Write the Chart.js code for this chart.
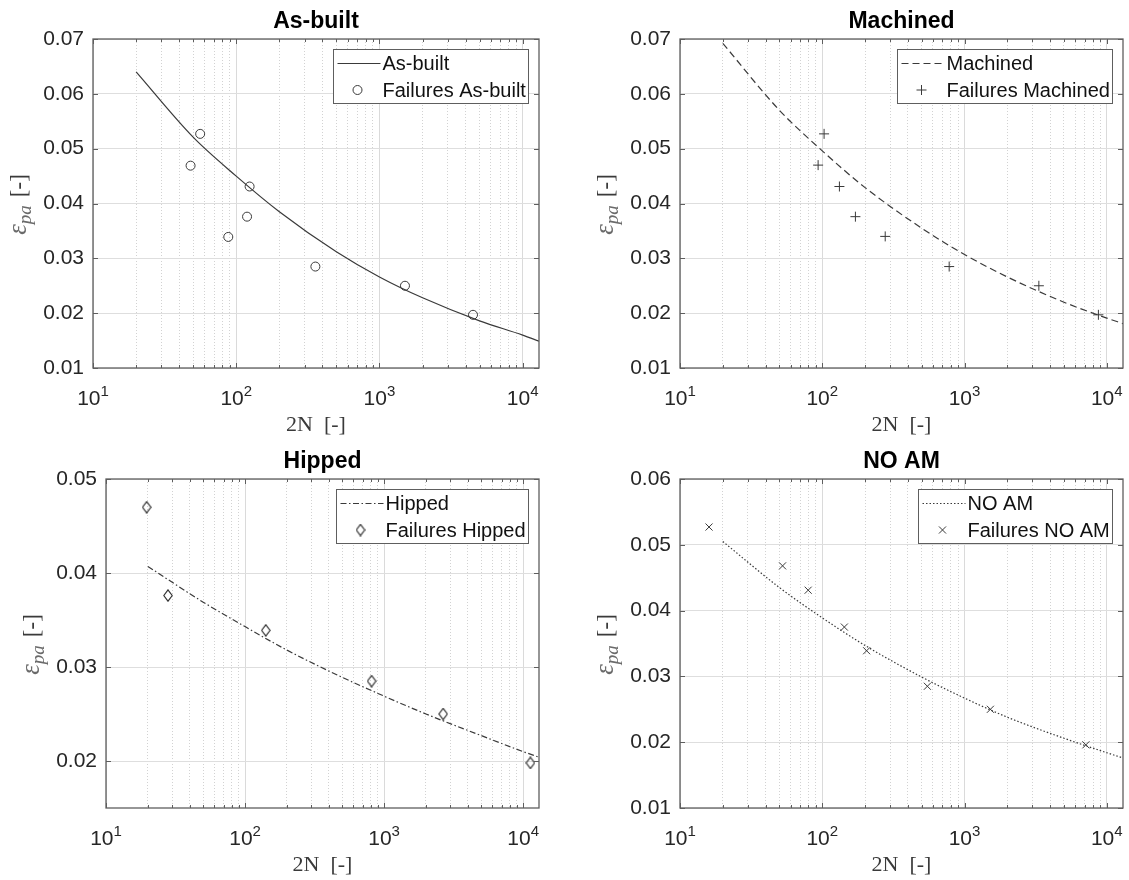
<!DOCTYPE html>
<html>
<head>
<meta charset="utf-8">
<title>Strain-life curves</title>
<script src="https://cdn.jsdelivr.net/npm/chart.js"></script>
<style>
  html, body { margin: 0; padding: 0; background: #fff; }
  #page { position: relative; width: 1129px; height: 880px; overflow: hidden; }
  #page canvas { position: absolute; }
</style>
</head>
<body>
<div id="page">
  <canvas id="c-asbuilt" width="560" height="440" style="left:0;top:0"></canvas>
  <canvas id="c-machined" width="569" height="440" style="left:560px;top:0"></canvas>
  <canvas id="c-hipped" width="560" height="440" style="left:0;top:440px"></canvas>
  <canvas id="c-noam" width="569" height="440" style="left:560px;top:440px"></canvas>
</div>
<script>
// fitted curves, read at these reversal counts
const curveN = [20, 50, 100, 200, 500, 1000, 2000, 5000, 10000, 13000];
const asBuiltCurve  = [0.0640, 0.0521, 0.0450, 0.0385, 0.0312, 0.0266, 0.0228, 0.0186, 0.0160, 0.0149];
const machinedCurve = [0.0692, 0.0570, 0.0496, 0.0429, 0.0355, 0.0307, 0.0266, 0.0220, 0.0191, 0.0181];
const hippedCurve   = [0.0407, 0.0369, 0.0343, 0.0318, 0.0289, 0.0269, 0.0250, 0.0227, 0.0210, 0.0204];
const noAmCurve     = [0.0505, 0.0435, 0.0389, 0.0347, 0.0299, 0.0267, 0.0238, 0.0206, 0.0184, 0.0176];

// failures
const asBuiltN    = [56, 48, 124, 119, 88, 357, 1507, 4500];
const asBuiltEps  = [0.0527, 0.0469, 0.0431, 0.0376, 0.0339, 0.0285, 0.0250, 0.0197];
const machinedN   = [103, 93.5, 132, 171, 277, 780, 3330, 8730];
const machinedEps = [0.0527, 0.0470, 0.0431, 0.0376, 0.0340, 0.0285, 0.0250, 0.0197];
const hippedN     = [19.6, 27.9, 141, 813, 2660, 11270];
const hippedEps   = [0.0470, 0.0376, 0.0339, 0.0285, 0.0250, 0.0198];
const noAmN       = [16, 52.6, 79.6, 143, 205, 548, 1520, 7130];
const noAmEps     = [0.0527, 0.0468, 0.0431, 0.0375, 0.0339, 0.0285, 0.0250, 0.0196];

// ticks
const xTickValues = [10, 100, 1000, 10000];
const xTickExp = ['1', '2', '3', '4'];
const yTicksWide = [0.01, 0.02, 0.03, 0.04, 0.05, 0.06, 0.07];
const yTicksHipped = [0.02, 0.03, 0.04, 0.05];
const yTicksNoAm = [0.01, 0.02, 0.03, 0.04, 0.05, 0.06];

const SANS = '"Liberation Sans", Arial, Helvetica, sans-serif';
const SERIF = '"Liberation Serif", "Times New Roman", serif';
const INK = '#262626';
const FRAME = '#5e5e5e';
const LINE = '#3a3a3a';

// minor + major grid positions for the log axis
const xGridValues = [];
for (let d = 10; d <= 10000; d *= 10) {
  for (let k = 1; k <= 9; k++) {
    if (d * k <= 13000) xGridValues.push(d * k);
  }
}

function isDecade(v) {
  const l = Math.log10(v);
  return Math.abs(l - Math.round(l)) < 1e-6;
}

function pts(xs, ys) {
  return xs.map((x, i) => ({x: x, y: ys[i]}));
}

// matlab 'd' marker is a bit taller than wide
function makeDiamond() {
  const c = document.createElement('canvas');
  c.width = 10; c.height = 13;
  const g = c.getContext('2d');
  g.strokeStyle = '#2a2a2a';
  g.lineWidth = 1.1;
  g.beginPath();
  g.moveTo(5, 0.8); g.lineTo(9.2, 6.5); g.lineTo(5, 12.2); g.lineTo(0.8, 6.5);
  g.closePath();
  g.stroke();
  return c;
}

// axes box + inward ticks
const matlabFrame = {
  id: 'matlabFrame',
  afterDatasetsDraw(chart) {
    const {ctx, chartArea: a, scales: {x, y}} = chart;
    ctx.save();
    ctx.strokeStyle = FRAME;
    ctx.lineWidth = 1;
    ctx.beginPath();
    x.ticks.forEach(t => {
      const px = Math.round(x.getPixelForValue(t.value)) + 0.5;
      const len = isDecade(t.value) ? 5 : 3;
      ctx.moveTo(px, a.bottom); ctx.lineTo(px, a.bottom - len);
      ctx.moveTo(px, a.top); ctx.lineTo(px, a.top + len);
    });
    y.ticks.forEach(t => {
      const py = Math.round(y.getPixelForValue(t.value)) + 0.5;
      ctx.moveTo(a.left, py); ctx.lineTo(a.left + 5, py);
      ctx.moveTo(a.right, py); ctx.lineTo(a.right - 5, py);
    });
    ctx.stroke();
    ctx.lineWidth = 1.3;
    ctx.strokeRect(a.left, a.top, a.right - a.left, a.bottom - a.top);
    ctx.restore();
  }
};

// legend box in the upper right corner of the axes
const boxLegend = {
  id: 'boxLegend',
  afterDraw(chart) {
    const {ctx, chartArea: a} = chart;
    const sets = chart.data.datasets;
    ctx.save();
    ctx.font = '20px ' + SANS;
    const textW = Math.max(...sets.map(d => ctx.measureText(d.label).width));
    const w = Math.round(49 + textW + 3), h = 54;
    const x0 = Math.round(a.right - 11.5 - w) + 0.5;
    const y0 = Math.round(a.top + 10) + 0.5;
    ctx.fillStyle = '#fff';
    ctx.fillRect(x0, y0, w, h);
    ctx.strokeStyle = FRAME;
    ctx.lineWidth = 1;
    ctx.strokeRect(x0, y0, w, h);
    sets.forEach((d, i) => {
      const cy = y0 + 14 + i * 26.5;
      ctx.save();
      if (d.showLine) {
        ctx.strokeStyle = d.borderColor;
        ctx.lineWidth = d.borderWidth;
        ctx.setLineDash(d.borderDash || []);
        ctx.beginPath();
        ctx.moveTo(x0 + 4, cy);
        ctx.lineTo(x0 + 47, cy);
        ctx.stroke();
      } else {
        ctx.strokeStyle = d.pointBorderColor;
        ctx.fillStyle = 'rgba(0,0,0,0)';
        ctx.lineWidth = d.pointBorderWidth;
        Chart.helpers.drawPoint(ctx, {
          pointStyle: d.pointStyle, radius: d.pointRadius,
          rotation: 0, borderWidth: d.pointBorderWidth
        }, x0 + 24, cy);
      }
      ctx.restore();
      ctx.fillStyle = '#111';
      ctx.textBaseline = 'middle';
      ctx.textAlign = 'left';
      ctx.fillText(d.label, x0 + 49, cy + 1);
    });
    ctx.restore();
  }
};

// 10^n labels with a raised exponent
const decadeLabels = {
  id: 'decadeLabels',
  afterDraw(chart) {
    const {ctx, chartArea: a, scales: {x}} = chart;
    ctx.save();
    ctx.fillStyle = INK;
    ctx.textAlign = 'left';
    ctx.textBaseline = 'alphabetic';
    xTickValues.forEach((v, i) => {
      ctx.font = '21px ' + SANS;
      const wb = ctx.measureText('10').width;
      ctx.font = '15px ' + SANS;
      const we = ctx.measureText(xTickExp[i]).width;
      const left = x.getPixelForValue(v) - (wb + we) / 2;
      ctx.font = '21px ' + SANS;
      ctx.fillText('10', left, a.bottom + 37);
      ctx.font = '15px ' + SANS;
      ctx.fillText(xTickExp[i], left + wb, a.bottom + 28);
    });
    ctx.restore();
  }
};

// y label: epsilon_pa [-]
const epsLabel = {
  id: 'epsLabel',
  afterDraw(chart) {
    const {ctx, chartArea: a} = chart;
    const parts = [
      {t: '\u03b5', font: 'italic 27px ' + SERIF, dy: 0, color: '#6a6a6a', gap: 0},
      {t: 'pa', font: 'italic 19px ' + SERIF, dy: 5, color: '#6a6a6a', gap: 0},
      {t: '[-]', font: '23px ' + SERIF, dy: 0, color: '#3a3a3a', gap: 8}
    ];
    ctx.save();
    ctx.translate(a.left - 67, (a.top + a.bottom) / 2 + 1);
    ctx.rotate(-Math.PI / 2);
    let total = 0;
    parts.forEach(p => { ctx.font = p.font; p.w = ctx.measureText(p.t).width; total += p.w + p.gap; });
    let cx = -total / 2;
    ctx.textAlign = 'left';
    ctx.textBaseline = 'alphabetic';
    parts.forEach(p => {
      cx += p.gap;
      ctx.font = p.font;
      ctx.fillStyle = p.color;
      ctx.fillText(p.t, cx, p.dy);
      cx += p.w;
    });
    ctx.restore();
  }
};

function makePanel(id, name, fitY, failN, failEps, lineDash, marker, yMin, yMax, yTicks, leftW, rightPad) {
  const failures = {
    label: 'Failures ' + name,
    data: pts(failN, failEps),
    showLine: false,
    pointStyle: marker.style,
    pointRadius: marker.radius,
    pointHoverRadius: marker.radius,
    pointBorderWidth: 1,
    pointBorderColor: LINE,
    pointBackgroundColor: 'rgba(0,0,0,0)'
  };
  return new Chart(document.getElementById(id), {
    type: 'scatter',
    data: {
      datasets: [{
        label: name,
        data: pts(curveN, fitY),
        showLine: true,
        borderColor: LINE,
        borderWidth: 1.2,
        borderDash: lineDash,
        pointRadius: 0,
        cubicInterpolationMode: 'monotone'
      }, failures]
    },
    options: {
      responsive: false,
      animation: false,
      events: [],
      layout: { padding: { left: 0, right: rightPad, top: 0, bottom: 0 } },
      scales: {
        x: {
          type: 'logarithmic',
          min: 10,
          max: 13000,
          afterBuildTicks: s => { s.ticks = xGridValues.map(v => ({value: v})); },
          afterFit: s => { s.height = 72; },
          ticks: { display: false, autoSkip: false },
          grid: {
            drawTicks: false,
            lineWidth: 1,
            color: c => (c.tick && isDecade(c.tick.value)) ? '#dadada' : '#d2d2d2'
          },
          border: {
            display: false,
            dash: c => (c.tick && isDecade(c.tick.value)) ? [] : [1, 2]
          },
          title: {
            display: true,
            text: '2N  [-]',
            color: '#3a3a3a',
            font: { family: SERIF, size: 22 },
            padding: { top: 0, bottom: 2 }
          }
        },
        y: {
          type: 'linear',
          min: yMin,
          max: yMax,
          afterBuildTicks: s => { s.ticks = yTicks.map(v => ({value: v})); },
          afterFit: s => { s.width = leftW; },
          ticks: {
            callback: v => v.toFixed(2),
            color: INK,
            font: { family: SANS, size: 21 },
            padding: 9
          },
          grid: { color: '#dedede', drawTicks: false },
          border: { display: false }
        }
      },
      plugins: {
        legend: { display: false },
        tooltip: { enabled: false },
        title: {
          display: true,
          text: name,
          fullSize: false,
          color: '#000',
          font: { family: SANS, size: 23, weight: 'bold', lineHeight: 1.2 },
          padding: { top: 8, bottom: 3.4 }
        }
      }
    },
    plugins: [matlabFrame, boxLegend, decadeLabels, epsLabel]
  });
}

makePanel('c-asbuilt', 'As-built', asBuiltCurve, asBuiltN, asBuiltEps, [],
  {style: 'circle', radius: 4.5}, 0.01, 0.07, yTicksWide, 93, 21);
makePanel('c-machined', 'Machined', machinedCurve, machinedN, machinedEps, [7, 4],
  {style: 'cross', radius: 5}, 0.01, 0.07, yTicksWide, 120, 1);
makePanel('c-hipped', 'Hipped', hippedCurve, hippedN, hippedEps, [6, 2.5, 1.5, 2.5],
  {style: makeDiamond(), radius: 5}, 0.015, 0.05, yTicksHipped, 106, 21);
makePanel('c-noam', 'NO AM', noAmCurve, noAmN, noAmEps, [1.5, 2],
  {style: 'crossRot', radius: 5}, 0.01, 0.06, yTicksNoAm, 120, 1);
</script>
</body>
</html>
